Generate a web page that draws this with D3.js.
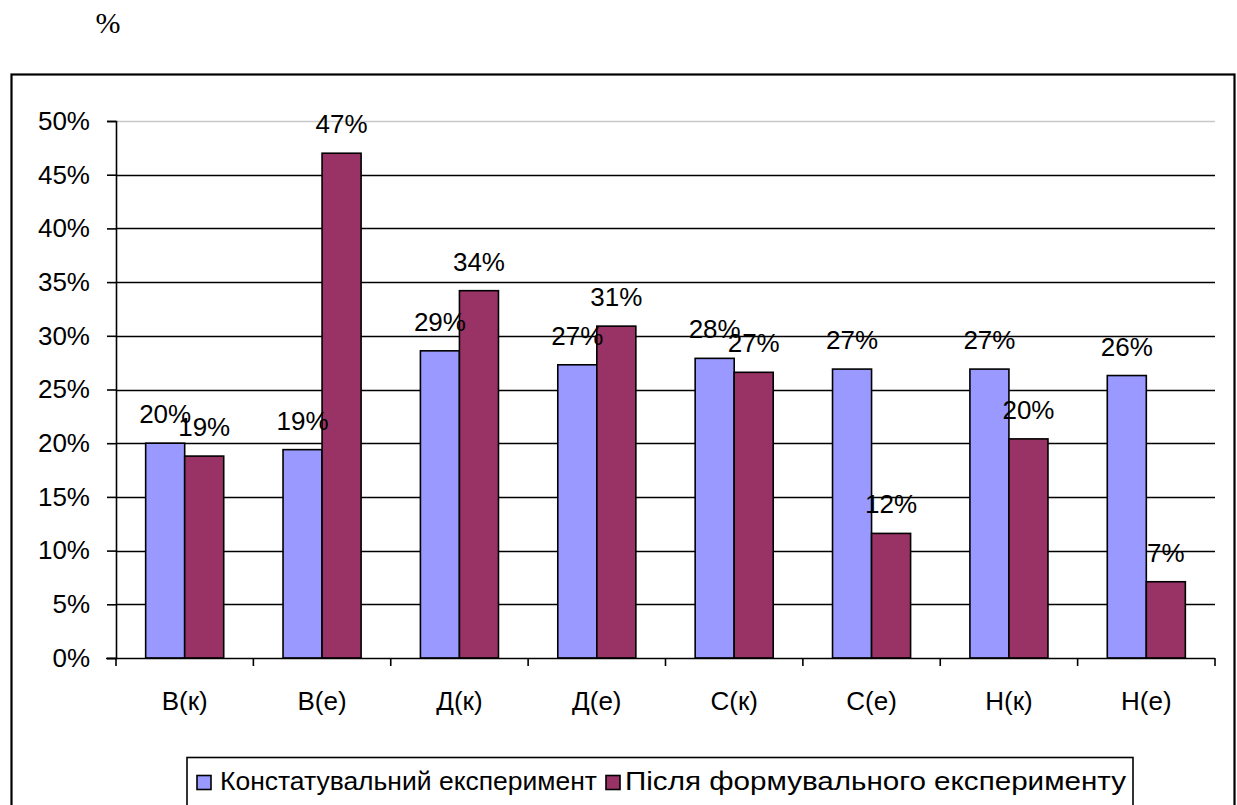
<!DOCTYPE html>
<html><head><meta charset="utf-8">
<script src="https://cdn.jsdelivr.net/npm/d3@7"></script>
<style>
html,body{margin:0;padding:0;background:#fff;}
svg{display:block;}
text{font-family:"Liberation Sans",Arial,sans-serif;fill:#000;}
</style></head>
<body>
<svg id="chart" width="1237" height="805"></svg>
<script>
const categories = ["В(к)","В(е)","Д(к)","Д(е)","С(к)","С(е)","Н(к)","Н(е)"];
const seriesNames = ["Констатувальний експеримент","Після формувального експерименту"];
const constatValues = [0.200,0.194,0.286,0.273,0.279,0.269,0.269,0.263];
const afterValues   = [0.188,0.470,0.342,0.309,0.266,0.116,0.204,0.071];
const yTicks = [0,0.05,0.10,0.15,0.20,0.25,0.30,0.35,0.40,0.45,0.50];
const colors = ["#9999FF","#993366"];

const svg = d3.select("#chart");
const W = 1237, H = 805;
const plot = {left:116, right:1215, top:121, bottom:658};

// "%" caption
svg.append("text").attr("x",108).attr("y",33).attr("text-anchor","middle")
  .style("font-family","'Liberation Serif','Times New Roman',serif").style("font-size","30px").text("%");

// outer frame
svg.append("rect").attr("x",11.5).attr("y",74.5).attr("width",1223).attr("height",760)
  .attr("fill","none").attr("stroke","#000").attr("stroke-width",2.2);

const y = d3.scaleLinear().domain([0,0.5]).range([plot.bottom, plot.top]);
const x0 = d3.scaleBand().domain(categories).range([plot.left, plot.right]).padding(0);
const x1 = d3.scaleBand().domain([0,1]).range([0, x0.bandwidth()]).paddingInner(0).paddingOuter(0.76);

// gridlines
svg.append("g").selectAll("line").data(yTicks.filter(t=>t>0)).join("line")
  .attr("x1",plot.left).attr("x2",plot.right)
  .attr("y1",d=>Math.round(y(d))+0.5).attr("y2",d=>Math.round(y(d))+0.5)
  .attr("stroke",d=>d===0.5?"#c8c8c8":"#000").attr("stroke-width",d=>d===0.5?1.5:1.6);

// y axis
const yAxis = d3.axisLeft(y).tickValues(yTicks).tickFormat(d3.format(".0%")).tickSize(9).tickPadding(17);
const gy = svg.append("g").attr("transform",`translate(${plot.left},0)`).call(yAxis);
gy.select(".domain").attr("stroke","#000").attr("stroke-width",1.6);
gy.selectAll(".tick line").attr("stroke","#000").attr("stroke-width",1.6);
gy.selectAll(".tick text").style("font-size","26px").style("font-family","'Liberation Sans',Arial,sans-serif").attr("fill","#000");

// bars
const groups = svg.append("g").selectAll("g").data(categories).join("g")
  .attr("transform",d=>`translate(${x0(d)},0)`);
const vals = [constatValues, afterValues];
groups.selectAll("rect").data((d,i)=>[0,1].map(s=>({s, v:vals[s][i]}))).join("rect")
  .attr("x",d=>x1(d.s)).attr("width",x1.bandwidth())
  .attr("y",d=>y(d.v)).attr("height",d=>plot.bottom - y(d.v))
  .attr("fill",d=>colors[d.s]).attr("stroke","#000").attr("stroke-width",1.6);

// x axis
const xAxisLine = svg.append("g");
xAxisLine.append("line").attr("x1",plot.left-10).attr("x2",plot.right).attr("y1",plot.bottom+0.5).attr("y2",plot.bottom+0.5)
  .attr("stroke","#000").attr("stroke-width",1.6);
const tickXs = categories.map(c=>x0(c)).concat([plot.right]);
xAxisLine.selectAll("line.t").data(tickXs).join("line").attr("class","t")
  .attr("x1",d=>d).attr("x2",d=>d).attr("y1",plot.bottom).attr("y2",plot.bottom+8)
  .attr("stroke","#000").attr("stroke-width",1.6);
svg.append("g").selectAll("text").data(categories).join("text")
  .attr("x",d=>x0(d)+x0.bandwidth()/2).attr("y",710).attr("text-anchor","middle")
  .style("font-size","26px").text(d=>d);

// data labels
groups.selectAll("text").data((d,i)=>[0,1].map(s=>({s, v:vals[s][i]}))).join("text")
  .attr("x",d=>x1(d.s)+x1.bandwidth()/2).attr("y",d=>y(d.v)-20).attr("text-anchor","middle")
  .style("font-size","26px").text(d=>Math.round(d.v*100)+"%");

// legend
const lg = svg.append("g");
lg.append("rect").attr("x",187).attr("y",757.5).attr("width",946).attr("height",80)
  .attr("fill","#fff").attr("stroke","#000").attr("stroke-width",1.6);
const legendItems = [{sq:197, tx:220, w:377},{sq:606, tx:625, w:501}];
legendItems.forEach((it,i)=>{
  lg.append("rect").attr("x",it.sq).attr("y",775.5).attr("width",14).attr("height",14)
    .attr("fill",colors[i]).attr("stroke","#000").attr("stroke-width",1.6);
  lg.append("text").attr("x",it.tx).attr("y",790).style("font-size","26px")
    .attr("textLength",it.w).attr("lengthAdjust","spacingAndGlyphs").text(seriesNames[i]);
});
</script>
</body></html>
